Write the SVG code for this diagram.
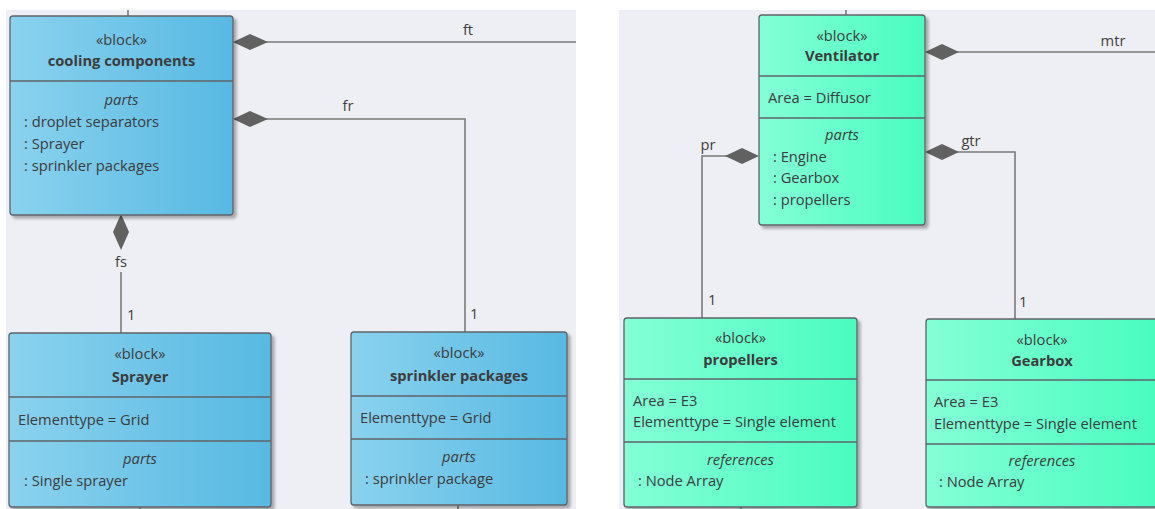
<svg xmlns="http://www.w3.org/2000/svg" width="1155" height="509" viewBox="0 0 1155 509">
<style>
text{font-family:"Open Sans","Noto Sans","Liberation Sans",sans-serif;font-size:14.7px;fill:#3c3c3c}
.c{text-anchor:middle}
.b{font-weight:bold}
.i{font-style:italic}
.box{stroke:#5f6368;stroke-width:1.3}
.div{stroke:#5f6368;stroke-width:1.3}
.ln{stroke:#7a7a7a;stroke-width:1.6;fill:none}
.dm{fill:#616161}
.lbl{fill:#404040}
</style>
<defs>
<linearGradient id="gb" x1="0" y1="0" x2="1" y2="0">
<stop offset="0" stop-color="#8ad2ee"/><stop offset="1" stop-color="#58b9e2"/>
</linearGradient>
<linearGradient id="gg" x1="0" y1="0" x2="1" y2="0">
<stop offset="0" stop-color="#84ffd6"/><stop offset="1" stop-color="#4afcbf"/>
</linearGradient>
<filter id="sh" x="-5%" y="-5%" width="115%" height="115%">
<feDropShadow dx="3" dy="3" stdDeviation="1.5" flood-color="#000" flood-opacity="0.3"/>
</filter>
</defs>
<rect width="1155" height="509" fill="#ffffff"/>
<rect x="6" y="10" width="570" height="499" fill="#eeeff4"/>
<rect x="619" y="10" width="536" height="499" fill="#eeeff4"/>

<g id="connectors">
<line class="ln" x1="128" y1="10" x2="128" y2="16"/>
<line class="ln" x1="140" y1="507" x2="140" y2="509"/>
<line class="ln" x1="458" y1="505" x2="458" y2="509"/>
<line class="ln" x1="846" y1="10" x2="846" y2="15"/>
<line class="ln" x1="741" y1="507" x2="741" y2="509"/>
<!-- ft -->
<polyline class="ln" points="266,42 576,42"/>
<polygon class="dm" points="233,42 250,34 268,42 250,50"/>
<text class="lbl" x="468" y="35" text-anchor="middle">ft</text>
<!-- fr -->
<polyline class="ln" points="266,119 465,119 465,332"/>
<polygon class="dm" points="233,119 250,111 268,119 250,127"/>
<text class="lbl" x="348" y="111" text-anchor="middle">fr</text>
<text class="lbl" x="470" y="319">1</text>
<!-- fs -->
<line class="ln" x1="121" y1="272" x2="121" y2="333"/>
<polygon class="dm" points="121,214 129,232 121,250 113,232"/>
<text class="lbl" x="121" y="267" text-anchor="middle">fs</text>
<text class="lbl" x="127" y="320">1</text>
<!-- mtr -->
<polyline class="ln" points="956,52 1155,52"/>
<polygon class="dm" points="925,52 942,44 959,52 942,60"/>
<text class="lbl" x="1113" y="46" text-anchor="middle">mtr</text>
<!-- gtr -->
<polyline class="ln" points="956,152 1015,152 1015,319"/>
<polygon class="dm" points="925,152 942,144 959,152 942,160"/>
<text class="lbl" x="971" y="146" text-anchor="middle">gtr</text>
<text class="lbl" x="1019" y="307">1</text>
<!-- pr -->
<polyline class="ln" points="728,156 702,156 702,318"/>
<polygon class="dm" points="759,156 742,148 725,156 742,164"/>
<text class="lbl" x="708" y="150" text-anchor="middle">pr</text>
<text class="lbl" x="708" y="305">1</text>
</g>

<g id="cooling-components">
<rect class="box" x="10" y="16" width="223" height="199" rx="3" fill="url(#gb)" filter="url(#sh)"/>
<line class="div" x1="10" y1="81" x2="233" y2="81"/>
<text class="c" x="121.5" y="45">«block»</text>
<text class="c b" x="121.5" y="66">cooling components</text>
<text class="c i" x="121.5" y="105">parts</text>
<text x="24" y="127">: droplet separators</text>
<text x="24" y="149">: Sprayer</text>
<text x="24" y="171">: sprinkler packages</text>
</g>

<g id="sprayer">
<rect class="box" x="9" y="333" width="262" height="174" rx="3" fill="url(#gb)" filter="url(#sh)"/>
<line class="div" x1="9" y1="397" x2="271" y2="397"/>
<line class="div" x1="9" y1="441" x2="271" y2="441"/>
<text class="c" x="140" y="359">«block»</text>
<text class="c b" x="140" y="382">Sprayer</text>
<text x="18" y="425">Elementtype = Grid</text>
<text class="c i" x="140" y="464">parts</text>
<text x="24" y="486">: Single sprayer</text>
</g>

<g id="sprinkler-packages">
<rect class="box" x="351" y="332" width="216" height="173" rx="3" fill="url(#gb)" filter="url(#sh)"/>
<line class="div" x1="351" y1="396" x2="567" y2="396"/>
<line class="div" x1="351" y1="439" x2="567" y2="439"/>
<text class="c" x="459" y="358">«block»</text>
<text class="c b" x="459" y="381">sprinkler packages</text>
<text x="360" y="423">Elementtype = Grid</text>
<text class="c i" x="459" y="462">parts</text>
<text x="365" y="484">: sprinkler package</text>
</g>

<g id="ventilator">
<rect class="box" x="759" y="15" width="166" height="210" rx="3" fill="url(#gg)" filter="url(#sh)"/>
<line class="div" x1="759" y1="76" x2="925" y2="76"/>
<line class="div" x1="759" y1="118" x2="925" y2="118"/>
<text class="c" x="842" y="41">«block»</text>
<text class="c b" x="842" y="61">Ventilator</text>
<text x="768" y="103">Area = Diffusor</text>
<text class="c i" x="842" y="140">parts</text>
<text x="773" y="162">: Engine</text>
<text x="773" y="183">: Gearbox</text>
<text x="773" y="205">: propellers</text>
</g>

<g id="propellers">
<rect class="box" x="624" y="318" width="233" height="189" rx="3" fill="url(#gg)" filter="url(#sh)"/>
<line class="div" x1="624" y1="379" x2="857" y2="379"/>
<line class="div" x1="624" y1="442" x2="857" y2="442"/>
<text class="c" x="740.5" y="343">«block»</text>
<text class="c b" x="740.5" y="365">propellers</text>
<text x="633" y="406">Area = E3</text>
<text x="633" y="427">Elementtype = Single element</text>
<text class="c i" x="740.5" y="465">references</text>
<text x="638" y="486">: Node Array</text>
</g>

<g id="gearbox">
<rect class="box" x="926" y="319" width="232" height="188" rx="3" fill="url(#gg)" filter="url(#sh)"/>
<line class="div" x1="926" y1="380" x2="1158" y2="380"/>
<line class="div" x1="926" y1="444" x2="1158" y2="444"/>
<text class="c" x="1042" y="345">«block»</text>
<text class="c b" x="1042" y="366">Gearbox</text>
<text x="934" y="407">Area = E3</text>
<text x="934" y="429">Elementtype = Single element</text>
<text class="c i" x="1042" y="466">references</text>
<text x="939" y="487">: Node Array</text>
</g>
</svg>
